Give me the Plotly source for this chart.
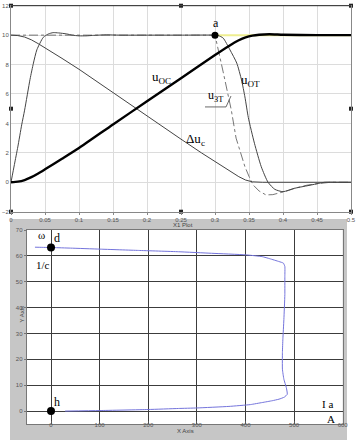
import plotly.graph_objects as go

# ---------------- top chart data ----------------
t_ot = [0, 0.005, 0.01, 0.0157, 0.02, 0.028, 0.033, 0.038, 0.0475, 0.055, 0.062, 0.07, 0.082, 0.09, 0.1,
        0.11, 0.12, 0.14, 0.16, 0.2, 0.25, 0.3, 0.305, 0.312, 0.322, 0.332, 0.339, 0.344, 0.349, 0.358,
        0.368, 0.378, 0.388, 0.4, 0.417, 0.442, 0.461, 0.48, 0.5]
u_ot = [0, 1.2, 2.4, 3.9, 4.9, 7.0, 8.1, 9.0, 9.85, 10.08, 10.17, 10.15, 10.08, 10.0, 9.95,
        9.95, 9.98, 10.02, 10.0, 10.0, 10.0, 10.0, 9.97, 9.8, 9.0, 8.1, 6.95, 5.8, 4.4, 2.65,
        1.06, 0.0, -0.48, -0.64, -0.41, -0.18, 0.0, 0.0, 0.0]

t_zt = [0, 0.3, 0.312, 0.324, 0.331, 0.338, 0.344, 0.35, 0.356, 0.365, 0.375, 0.385, 0.393, 0.405,
        0.417, 0.435, 0.45, 0.47, 0.5]
u_zt = [10, 10, 7.5, 4.9, 3.0, 1.9, 1.06, 0.4, -0.18, -0.6, -0.86, -0.84, -0.75, -0.6,
        -0.41, -0.2, -0.1, 0, 0]

t_oc = [0, 0.01, 0.02, 0.03, 0.04, 0.05, 0.075, 0.1, 0.15, 0.2, 0.25, 0.3, 0.32, 0.335, 0.345,
        0.355, 0.365, 0.38, 0.4, 0.45, 0.5]
u_oc = [0, 0.04, 0.15, 0.35, 0.6, 0.88, 1.6, 2.33, 3.93, 5.5, 7.07, 8.65, 9.25, 9.65, 9.85,
        9.97, 10.03, 10.06, 10.03, 10.0, 10.0]

t_du = [0, 0.01, 0.02, 0.03, 0.04, 0.05, 0.075, 0.1, 0.15, 0.2, 0.25, 0.28, 0.3, 0.32, 0.335,
        0.345, 0.355, 0.37, 0.4, 0.45, 0.5]
du_c = [10, 9.97, 9.87, 9.68, 9.42, 9.14, 8.42, 7.68, 6.08, 4.5, 2.93, 2.0, 1.4, 0.8, 0.38,
        0.15, 0.03, 0.0, 0.0, 0.0, 0.0]

t_lim = [0.3, 0.5]
u_lim = [10, 10]

pt_a_t = [0.3]
pt_a_u = [10]

t_ticks = [0, 0.05, 0.1, 0.15, 0.2, 0.25, 0.3, 0.35, 0.4, 0.45, 0.5]
t_ticklabels = ["0", "0.05", "0.1", "0.15", "0.2", "0.25", "0.3", "0.35", "0.4", "0.45", "0.5"]
u_ticks = [-2, 0, 2, 4, 6, 8, 10, 12]

frame_t = [0, 0.25, 0.5, 0, 0.25, 0.5, 0, 0.5]
frame_u = [12, 12, 12, -2, -2, -2, 5, 5]

# ---------------- bottom chart data ----------------
i_a = [29, 100, 200, 262, 300, 366, 410, 434.5, 455, 469, 480, 486, 484, 479, 476, 476, 477, 479,
       481, 481, 481, 478, 469, 450, 434.5, 400, 330, 262, 180, 101, 40, 4.8, -20, -33]
omega = [0, 0.2, 0.6, 1.0, 1.2, 1.8, 2.5, 3.3, 4.0, 4.6, 5.4, 6.5, 9.1, 12.3, 16.2, 22.6, 28, 35.4,
         45, 52, 55.9, 57.2, 57.8, 58.9, 59.7, 60.4, 61.0, 61.6, 62.1, 62.6, 63.0, 63.2, 63.3, 63.35]
pts_i = [0, 0]
pts_w = [63.2, 0]
i_ticks = [0, 100, 200, 300, 400, 500, 600]
w_ticks = [0, 10, 20, 30, 40, 50, 60, 70]

W, H = 358, 440


def fx(px):
    return px / W


def fy(py):
    return 1 - py / H


fig = go.Figure()

# top traces
fig.add_trace(go.Scatter(x=t_lim, y=u_lim, mode="lines", line=dict(color="#eeee90", width=2),
                         xaxis="x", yaxis="y", hoverinfo="skip"))
fig.add_trace(go.Scatter(x=t_zt, y=u_zt, mode="lines", line=dict(color="#666666", width=0.9, dash="dashdot"),
                         xaxis="x", yaxis="y"))
fig.add_trace(go.Scatter(x=t_du, y=du_c, mode="lines", line=dict(color="#444444", width=1),
                         xaxis="x", yaxis="y"))
fig.add_trace(go.Scatter(x=t_ot, y=u_ot, mode="lines", line=dict(color="#444444", width=1, shape="spline", smoothing=0.6),
                         xaxis="x", yaxis="y"))
fig.add_trace(go.Scatter(x=t_oc, y=u_oc, mode="lines", line=dict(color="#000000", width=2.4, shape="spline", smoothing=0.5),
                         xaxis="x", yaxis="y"))
fig.add_trace(go.Scatter(x=pt_a_t, y=pt_a_u, mode="markers", marker=dict(color="black", size=7),
                         xaxis="x", yaxis="y"))
fig.add_trace(go.Scatter(x=frame_t, y=frame_u, mode="markers", marker=dict(color="#222", size=4, symbol="square"),
                         xaxis="x", yaxis="y", cliponaxis=False))

# bottom traces
fig.add_trace(go.Scatter(x=i_a, y=omega, mode="lines", line=dict(color="#7474dc", width=1, shape="spline", smoothing=0.4),
                         xaxis="x2", yaxis="y2"))
fig.add_trace(go.Scatter(x=pts_i, y=pts_w, mode="markers", marker=dict(color="black", size=8),
                         xaxis="x2", yaxis="y2"))

tickfont = dict(family="Liberation Sans", size=6, color="#555555")
serif = "Liberation Serif"

fig.update_layout(
    width=W, height=H, margin=dict(l=0, r=0, t=0, b=0, autoexpand=False),
    paper_bgcolor="white", plot_bgcolor="white", showlegend=False,
    xaxis=dict(domain=[fx(11), fx(351)], range=[0, 0.5], tickvals=t_ticks, ticktext=t_ticklabels,
               showgrid=True, gridcolor="#dcdcdc", gridwidth=1, zeroline=False, automargin=False,
               showline=True, linecolor="#888888", mirror=True, ticks="outside", ticklen=2,
               tickcolor="#888", tickfont=tickfont, anchor="y", ticklabeloverflow="allow"),
    yaxis=dict(domain=[fy(211.7), fy(5.7)], range=[-2, 12], tickvals=u_ticks,
               showgrid=True, gridcolor="#dcdcdc", gridwidth=1, zeroline=False, automargin=False,
               showline=True, linecolor="#888888", mirror=True, ticks="", tickfont=tickfont,
               anchor="x", ticklabeloverflow="allow"),
    xaxis2=dict(domain=[fx(26.7), fx(342.7)], range=[-50, 600], tickvals=i_ticks,
                showgrid=True, gridcolor="#3c3c3c", gridwidth=1, zeroline=False, automargin=False,
                showline=True, linecolor="#777777", mirror=True, ticks="inside", ticklen=3,
                tickcolor="#555", tickfont=tickfont, anchor="y2", ticklabelstandoff=-5,
                ticklabeloverflow="allow"),
    yaxis2=dict(domain=[fy(424), fy(230)], range=[-5, 70], tickvals=w_ticks,
                showgrid=True, gridcolor="#3c3c3c", gridwidth=1, zeroline=False, automargin=False,
                showline=True, linecolor="#777777", mirror=True, ticks="outside", ticklen=2,
                tickcolor="#777", tickfont=tickfont, anchor="x2", ticklabeloverflow="allow"),
)

shapes = [
    # gray panel behind bottom plot
    dict(type="rect", xref="paper", yref="paper", x0=fx(10), x1=fx(347), y0=0, y1=fy(219),
         fillcolor="#c6c6c6", line=dict(width=0), layer="below"),
    # white plot area of the lower plot
    dict(type="rect", xref="paper", yref="paper", x0=fx(26.7), x1=fx(342.7), y0=fy(424), y1=fy(230),
         fillcolor="white", line=dict(width=0), layer="below"),
    # dark top frame line of the upper plot
    dict(type="line", xref="paper", yref="paper", x0=fx(11), x1=fx(351), y0=fy(5.7), y1=fy(5.7),
         line=dict(color="#333333", width=1)),
    # leader for u_3T label
    dict(type="path", xref="x", yref="y", path="M 0.2853 5.12 L 0.3162 5.12 L 0.3235 5.86",
         line=dict(color="#444444", width=0.8)),
]
fig.update_layout(shapes=shapes)

ann = [
    dict(x=0.3015, y=10.83, xref="x", yref="y", text="a", font=dict(family=serif, size=12, color="black")),
    dict(x=0.2206, y=7.09, xref="x", yref="y", text="u<sub>OC</sub>", font=dict(family=serif, size=13, color="black")),
    dict(x=0.352, y=6.95, xref="x", yref="y", text="u<sub>OT</sub>", font=dict(family=serif, size=13, color="black")),
    dict(x=0.3007, y=5.85, xref="x", yref="y", text="u<sub>ЗТ</sub>", font=dict(family=serif, size=12, color="black")),
    dict(x=0.2706, y=2.94, xref="x", yref="y", text="Δu<sub>c</sub>", font=dict(family=serif, size=13, color="black")),
    dict(x=fx(183), y=fy(225), xref="paper", yref="paper", text="X1 Plot", font=dict(family="Liberation Sans", size=6, color="#444")),
    dict(x=fx(185), y=fy(435.5), xref="paper", yref="paper", text="X Axis", font=dict(family="Liberation Sans", size=6, color="#444")),
    dict(x=fx(16), y=fy(325), xref="paper", yref="paper", text="Y Axis", textangle=-90, font=dict(family="Liberation Sans", size=6, color="#444")),
    dict(x=-19, y=68, xref="x2", yref="y2", text="ω", font=dict(family=serif, size=11, color="black")),
    dict(x=11.7, y=66.9, xref="x2", yref="y2", text="d", font=dict(family=serif, size=12, color="black")),
    dict(x=-17.5, y=56.4, xref="x2", yref="y2", text="1/c", font=dict(family=serif, size=11, color="black")),
    dict(x=11.7, y=3.4, xref="x2", yref="y2", text="h", font=dict(family=serif, size=12, color="black")),
    dict(x=568, y=2.6, xref="x2", yref="y2", text="I a", font=dict(family=serif, size=11, color="black")),
    dict(x=575, y=-3.0, xref="x2", yref="y2", text="A", font=dict(family=serif, size=11, color="black")),
]
for a in ann:
    a["showarrow"] = False
fig.update_layout(annotations=ann)

fig.write_html("out.html", config={"displayModeBar": False},
               post_script="document.body.style.margin='0px';document.body.style.overflow='hidden';")
